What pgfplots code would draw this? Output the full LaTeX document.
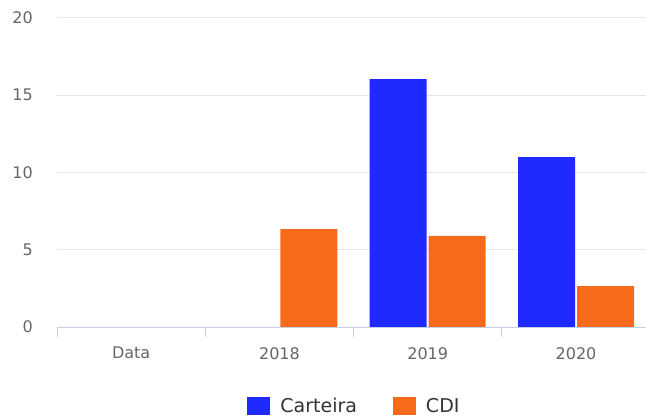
\documentclass[border=0pt]{standalone}
\usepackage{pgfplots}
\pgfplotsset{compat=1.18}
\usepackage{fontspec}
\setmainfont{DejaVu Sans}
\definecolor{carteira}{HTML}{1F2AFF}
\definecolor{cdi}{HTML}{F56A1B}
\definecolor{gridc}{HTML}{E6E6E6}
\definecolor{axisc}{HTML}{C4D0EA}
\definecolor{labc}{HTML}{666666}
\definecolor{legc}{HTML}{333333}
\begin{document}
\begin{tikzpicture}
\useasboundingbox (0,0) rectangle (646bp,417bp);
\begin{axis}[
  at={(57bp,90bp)}, anchor=south west,
  scale only axis, width=589bp, height=309bp,
  ybar=2bp, bar width=57bp,
  xmin=-0.5, xmax=3.472, ymin=0, ymax=20,
  xtick={0,1,2,3}, xticklabels={Data,2018,2019,2020},
  minor xtick={-0.5,0.5,1.5,2.5},
  ytick={0,5,10,15,20},
  axis x line*=bottom, axis y line*=left,
  x axis line style={color=axisc, line width=1bp},
  y axis line style={draw=none},
  ymajorgrids, grid style={color=gridc, line width=1bp},
  tick align=outside, major tick length=0pt, minor tick length=10bp,
  minor x tick style={color=axisc, line width=1bp},
  ytick style={draw=none},
  tick label style={font=\fontsize{16bp}{18bp}\selectfont, text=labc},
  /pgf/number format/assume math mode=true,
  xticklabel style={anchor=north, inner sep=0pt, yshift=-20bp},
  yticklabel style={anchor=east, inner sep=0pt, xshift=-24bp},
  legend columns=2,
  legend style={at={(0.505,-0.256)}, anchor=center, draw=none, fill=none,
    font=\fontsize{19bp}{20bp}\selectfont, text=legc,
    /tikz/every even column/.append style={column sep=34bp}},
  legend image code/.code={\fill[#1] (0bp,-9bp) rectangle (23bp,9bp);
    \path (31bp,0bp);},
]
\addplot[fill=carteira, draw=none] coordinates {(1,0) (2,16.05) (3,11.0)};
\addplot[fill=cdi, draw=none] coordinates {(1,6.34) (2,5.89) (3,2.65)};
\draw[axisc, line width=1bp] (axis cs:-0.5,0) -- (axis cs:3.472,0);
\legend{Carteira,CDI}
\end{axis}
\end{tikzpicture}
\end{document}
